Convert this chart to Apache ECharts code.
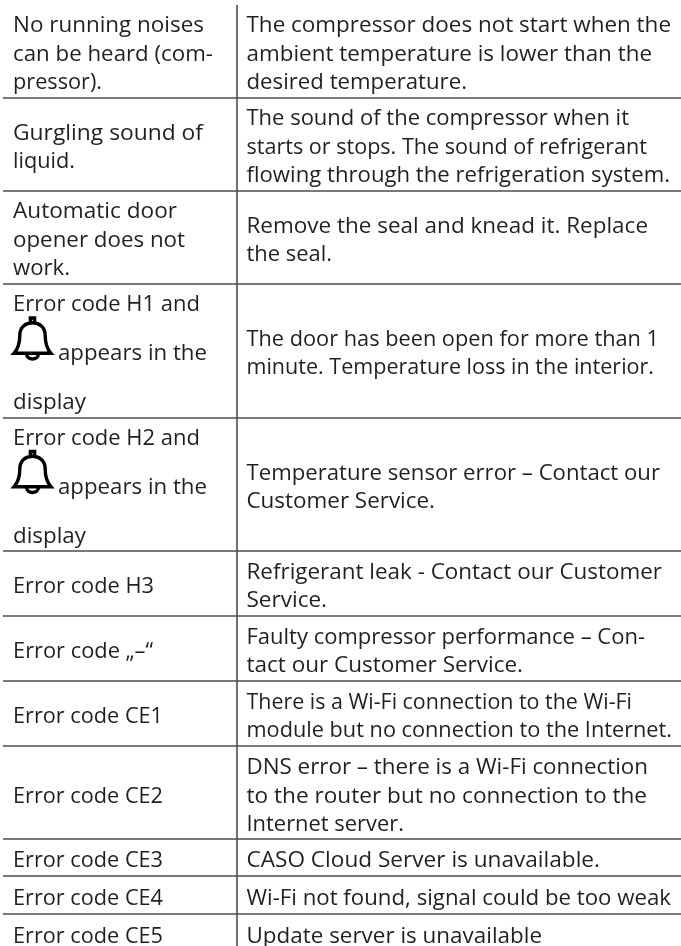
<!DOCTYPE html>
<html><head><meta charset="utf-8">
<style>html,body{margin:0;padding:0;background:#fff}#c{width:681px;height:946px}</style>
<script src="https://cdn.jsdelivr.net/npm/echarts@6/dist/echarts.min.js"></script>
</head><body><div id="c"></div>
<script>
const leftCells = [
  ["No running noises","can be heard (com-","pressor)."],
  ["Gurgling sound of","liquid."],
  ["Automatic door","opener does not","work."],
  ["Error code H1 and","appears in the","display"],
  ["Error code H2 and","appears in the","display"],
  ["Error code H3"],
  ["Error code „–“"],
  ["Error code CE1"],
  ["Error code CE2"],
  ["Error code CE3"],
  ["Error code CE4"],
  ["Error code CE5"]
];
const rightCells = [
  ["The compressor does not start when the","ambient temperature is lower than the","desired temperature."],
  ["The sound of the compressor when it","starts or stops. The sound of refrigerant","flowing through the refrigeration system."],
  ["Remove the seal and knead it. Replace","the seal."],
  ["The door has been open for more than 1","minute. Temperature loss in the interior."],
  ["Temperature sensor error – Contact our","Customer Service."],
  ["Refrigerant leak - Contact our Customer","Service."],
  ["Faulty compressor performance – Con-","tact our Customer Service."],
  ["There is a Wi-Fi connection to the Wi-Fi","module but no connection to the Internet."],
  ["DNS error – there is a Wi-Fi connection","to the router but no connection to the","Internet server."],
  ["CASO Cloud Server is unavailable."],
  ["Wi-Fi not found, signal could be too weak"],
  ["Update server is unavailable"]
];
const bellRows = [3,4];
// layout (pixel scale of the hidden axes): row rules, text drop per row, and where each text line ends
const rowEdges = [8,98,191,284,418,551,616,681,746,839,876,914,951];
const rowDrops = [1.5,3,3,3,3,3,3,3,4,3,3.5,4];
const leftEnds = [[204,213,102],[203,75],[177,185,70],[200,207,86],[200,207,86],[154],[153],[163],[163],[163],[163],[163]];
const rightEnds = [[671,652,467],[629,647,670],[648,332],[659,654],[660,435],[662,327],[645,523],[632,672],[648,647,404],[600],[671],[542]];
const W=681,H=946, tableLeft=3, colX=237, leftX=13, rightX=246.5, indent=58;
const lineGap=28.3, bellGap=49, FONT='"Open Sans"', SIZE=22, INK='#231f20', RULE='#4d4d4d';
const bellPath="M2 37C6 32 7.5 26 7.5 18C7.5 9.5 13 5 19.5 5C26 5 31.5 9.5 31.5 18C31.5 26 33 32 37 37ZM17.5 0H21.5V5H17.5ZM14 38A5.5 5 0 0 0 25 38";

const ctx=document.createElement('canvas').getContext('2d');
function txt(x0,x1,s,y){
  ctx.font=SIZE+'px '+FONT;
  const sx=(x1-x0)/ctx.measureText(s).width;
  return {type:'text',x:x0,y,scaleX:sx,style:{text:s,x:0,y:0,fill:INK,font:SIZE+'px '+FONT,textAlign:'left',textVerticalAlign:'middle'}};
}
function line(a,b){return {type:'line',shape:{x1:a[0],y1:a[1],x2:b[0],y2:b[1]},style:{stroke:RULE,lineWidth:1.6}};}

function renderRow(params,api){
  const i=api.value(0), top=rowEdges[i], bot=rowEdges[i+1], kids=[];
  const mid=api.coord([0,(top+bot)/2])[1];
  const isBell=bellRows.includes(i);
  const gap=isBell?bellGap:lineGap;
  leftCells[i].forEach((s,k)=>{
    const y=mid+(k-(leftCells[i].length-1)/2)*gap;
    const x=(isBell&&k===1)?indent:leftX;
    kids.push(txt(x,leftEnds[i][k],s,y+rowDrops[i]));
    if(isBell&&k===1){
      const p=api.coord([leftX+1,y-33]);
      kids.push({type:'path',shape:{pathData:bellPath,layout:'cover',x:p[0],y:p[1],width:37,height:41},style:{fill:null,stroke:'#000',lineWidth:3.4}});
    }
  });
  rightCells[i].forEach((s,k)=>{
    const y=mid+(k-(rightCells[i].length-1)/2)*lineGap;
    kids.push(txt(rightX,rightEnds[i][k],s,y+rowDrops[i]));
  });
  if(i<leftCells.length-1) kids.push(line(api.coord([tableLeft,bot]),api.coord([W,bot])));
  if(i===0) kids.push(line(api.coord([colX,5]),api.coord([colX,H])));
  return {type:'group',children:kids};
}
const chart=echarts.init(document.getElementById('c'),null,{renderer:'canvas'});
chart.setOption({
  animation:false,backgroundColor:'#fff',
  grid:{left:0,right:0,top:0,bottom:0},
  xAxis:{type:'value',min:0,max:W,show:false},
  yAxis:{type:'value',min:0,max:H,inverse:true,show:false},
  series:[{type:'custom',silent:true,clip:false,coordinateSystem:'cartesian2d',renderItem:renderRow,
    encode:{x:0,y:0},data:leftCells.map((_,i)=>[i])}]
});
</script></body></html>
